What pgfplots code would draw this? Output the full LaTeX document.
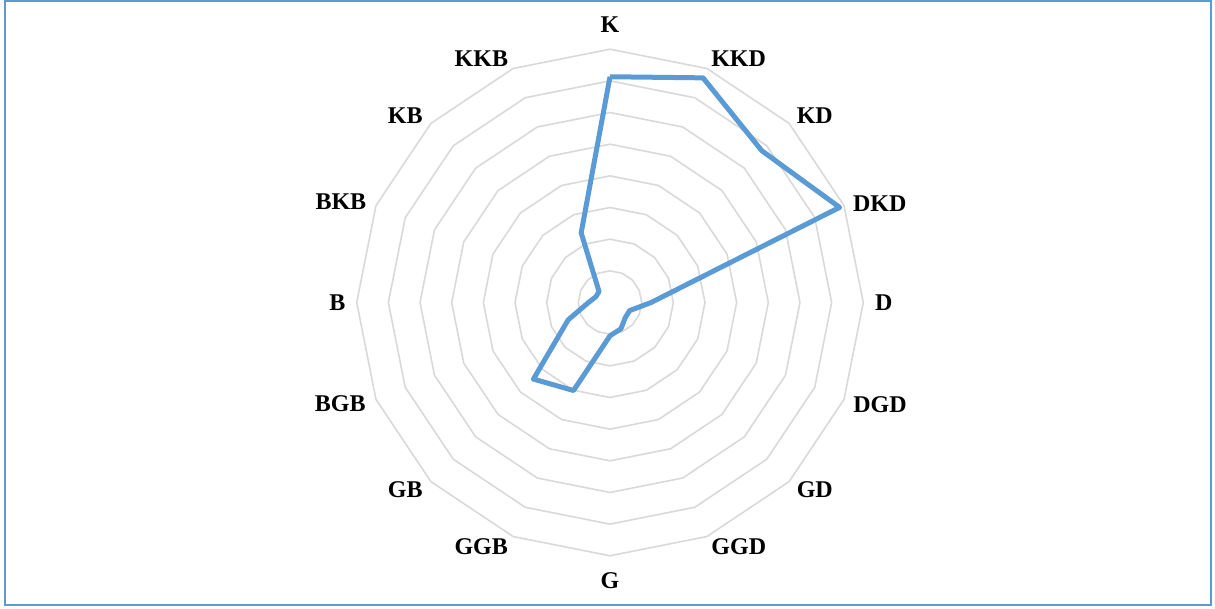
\documentclass[border=0pt]{standalone}
\usepackage{fontspec}
\setmainfont{Liberation Serif}
\usepackage{pgfplots}
\pgfplotsset{compat=1.18}
\usepgfplotslibrary{polar}
\definecolor{windblue}{RGB}{91,155,213}
\definecolor{ringgray}{RGB}{217,217,217}

\begin{document}
\begin{tikzpicture}
\path[use as bounding box] (0,0) rectangle (1215pt,608pt);
\draw[windblue, line width=2pt] (5pt,3pt) rectangle (1211pt,607pt);
\begin{polaraxis}[
  at={(610pt,305.5pt)}, anchor=center,
  scale only axis, width=506.6pt, height=506.6pt,
  ymin=0, ymax=8,
  hide axis, clip=false,
]
% rings
\pgfplotsinvokeforeach{1,...,8}{
  \addplot[ringgray, line width=1.6pt, line join=round] coordinates {
    (90,#1) (67.5,#1) (45,#1) (22.5,#1) (0,#1) (-22.5,#1) (-45,#1) (-67.5,#1)
    (-90,#1) (-112.5,#1) (-135,#1) (-157.5,#1) (-180,#1) (-202.5,#1) (-225,#1)
    (-247.5,#1) (-270,#1)};
}
% wind directions: K, KKD, KD, DKD, D, DGD, GD, GGD, G, GGB, GB, BGB, B, BKB, KB, KKB
\addplot[windblue, line width=5pt, line join=round] coordinates {
  (90,7.13) (67.5,7.68) (45,6.78) (22.5,7.85) (0,1.30) (-22.5,0.67)
  (-45,0.68) (-67.5,0.90) (-90,1.05) (-112.5,3.01) (-135,3.42) (-157.5,1.43)
  (-180,0.68) (-202.5,0.48) (-225,0.49) (-247.5,2.38) (-270,7.13)};
\begin{scope}[every node/.style={font=\fontsize{24}{28}\selectfont\bfseries, inner sep=0pt, anchor=center}]
\node at (axis cs:90,8.79) {K};
\node at (axis cs:62.2,8.71) {KKD};
\node at (axis cs:42.4,8.76) {KD};
\node at (axis cs:20.2,9.08) {DKD};
\node at (axis cs:0,8.65) {D};
\node at (axis cs:-20.8,9.12) {DGD};
\node at (axis cs:-42.4,8.76) {GD};
\node at (axis cs:-62.2,8.72) {GGD};
\node at (axis cs:-90,8.79) {G};
\node at (axis cs:-117.8,8.72) {GGB};
\node at (axis cs:-137.6,8.76) {GB};
\node at (axis cs:-159.4,9.10) {BGB};
\node at (axis cs:180,8.61) {B};
\node at (axis cs:159.4,9.08) {BKB};
\node at (axis cs:137.6,8.76) {KB};
\node at (axis cs:117.8,8.71) {KKB};
\end{scope}
\end{polaraxis}
\end{tikzpicture}
\end{document}
